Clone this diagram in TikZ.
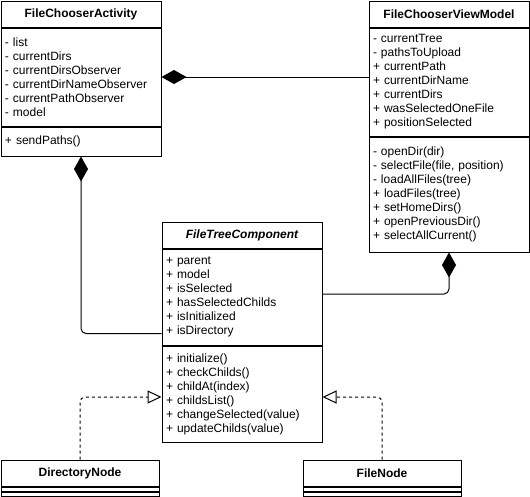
\documentclass[tikz,border=0pt]{standalone}
\usepackage{fontspec}
\setmainfont{Liberation Sans}
\usetikzlibrary{arrows.meta,positioning}

\begin{document}
\begin{tikzpicture}[
  x=1pt, y=-1pt, line width=1pt,
  font=\fontsize{12}{14}\selectfont,
  head/.style={rectangle, draw, anchor=north west, inner sep=0pt, minimum height=26pt, minimum width=160pt, font=\fontsize{12}{14}\selectfont\bfseries},
  members/.style={rectangle, draw, anchor=north west, align=left, inner xsep=4pt, inner ysep=0pt, text width=152pt, minimum height=#1},
  comp/.style={{Diamond[length=25pt,width=14pt]}-, rounded corners=5pt},
  realize/.style={-{Triangle[open,length=14pt,width=13pt]}, dash pattern=on 3pt off 3pt, rounded corners=5pt}
]
\useasboundingbox (0,0) rectangle (530,496);

% FileChooserActivity
\node[head] (fcaHead) at (0.5,0.5) {FileChooserActivity};
\node[members=98pt] (fcaAttr) at (fcaHead.south west) {- list\\- currentDirs\\- currentDirsObserver\\- currentDirNameObserver\\- currentPathObserver\\- model};
\node[members=29pt] (fcaMeth) at (fcaAttr.south west) {+ sendPaths()};

% FileChooserViewModel
\node[head] (vmHead) at (368.5,0.5) {FileChooserViewModel};
\node[members=108pt] (vmAttr) at (vmHead.south west) {- currentTree\\- pathsToUpload\\+ currentPath\\+ currentDirName\\+ currentDirs\\+ wasSelectedOneFile\\+ positionSelected};
\node[members=115pt] (vmMeth) at (vmAttr.south west) {- openDir(dir)\\- selectFile(file, position)\\- loadAllFiles(tree)\\+ loadFiles(tree)\\+ setHomeDirs()\\+ openPreviousDir()\\+ selectAllCurrent()};

% FileTreeComponent
\node[head, font=\fontsize{12}{14}\selectfont\bfseries\itshape] (ftcHead) at (161.5,221.5) {FileTreeComponent};
\node[members=96pt] (ftcAttr) at (ftcHead.south west) {+ parent\\+ model\\+ isSelected\\+ hasSelectedChilds\\+ isInitialized\\+ isDirectory};
\node[members=96pt] (ftcMeth) at (ftcAttr.south west) {+ initialize()\\+ checkChilds()\\+ childAt(index)\\+ childsList()\\+ changeSelected(value)\\+ updateChilds(value)};

% DirectoryNode and FileNode
\node[head, minimum width=158pt] (dirHead) at (0.5,459.5) {DirectoryNode};
\node[members=4pt, text width=150pt] (dirAttr) at (dirHead.south west) {};
\node[members=4pt, text width=150pt] (dirMeth) at (dirAttr.south west) {};
\node[head, minimum width=158pt] (fileHead) at (302.5,459.5) {FileNode};
\node[members=4pt, text width=150pt] (fileAttr) at (fileHead.south west) {};
\node[members=4pt, text width=150pt] (fileMeth) at (fileAttr.south west) {};

% connectors
\draw[comp] (fcaAttr.east) -- (vmAttr.west |- fcaAttr.east);
\draw[comp] (fcaMeth.south) |- ([yshift=12pt]ftcAttr.south west);
\draw[comp] (vmMeth.south) |- ([yshift=3pt]ftcAttr.east);
\draw[realize] (dirHead.north) |- ([yshift=-3pt]ftcMeth.west);
\draw[realize] (fileHead.north) |- ([yshift=-3pt]ftcMeth.east);

\end{tikzpicture}
\end{document}
